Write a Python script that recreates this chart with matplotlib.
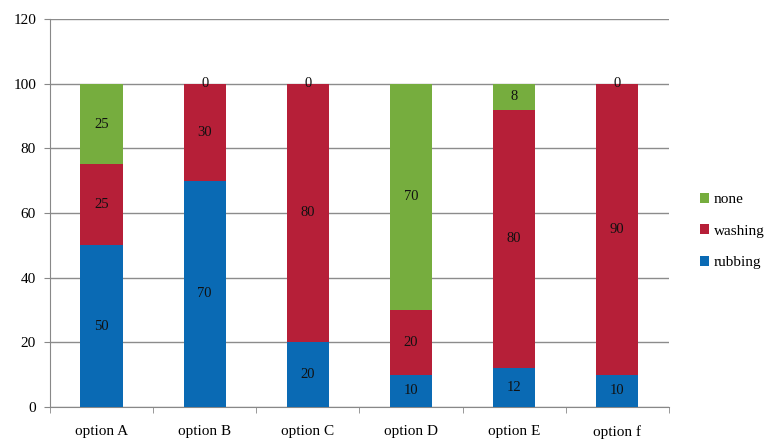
import matplotlib.pyplot as plt
import numpy as np

options = ["option A", "option B", "option C", "option D", "option E", "option f"]
rubbing = [50, 70, 20, 10, 12, 10]
washing = [25, 30, 80, 20, 80, 90]
none = [25, 0, 0, 70, 8, 0]

plt.rcParams['font.family'] = ['Liberation Serif', 'DejaVu Serif']

fig = plt.figure(figsize=(7.67, 4.41), dpi=100)
ax = fig.add_axes([0.0652, 0.0771, 0.8068, 0.8799])

x = np.arange(len(options))
w = 0.41
series = [("rubbing", rubbing, "#0a6ab4"),
          ("washing", washing, "#b61f38"),
          ("none", none, "#76ad3e")]
bottom = np.zeros(len(options))
for name, vals, col in series:
    ax.bar(x, vals, w, bottom=bottom, color=col, label=name, zorder=3)
    for xi, b, v in zip(x, bottom, vals):
        ax.text(xi, b + v / 2, str(v), ha='center', va='center',
                fontsize=10.5, color='#111111', zorder=4)
    bottom += np.array(vals)

ax.set_xlim(-0.5, len(options) - 0.5)
ax.set_ylim(0, 120)
ax.set_yticks(range(0, 121, 20))
ax.set_xticks(x)
ax.set_xticklabels(options)
ax.set_xticks(np.arange(-0.5, len(options)), minor=True)
ax.tick_params(axis='x', which='major', length=0, pad=13, labelsize=11)
ax.tick_params(axis='x', which='minor', length=4, color='#888888')
ax.tick_params(axis='y', length=4, color='#888888', labelsize=11, pad=6)
ax.grid(axis='y', color='#8c8c8c', linewidth=1, zorder=0)
for s in ('top', 'right'):
    ax.spines[s].set_visible(False)
for s in ('left', 'bottom'):
    ax.spines[s].set_color('#888888')

h, l = ax.get_legend_handles_labels()
fig.legend(h[::-1], l[::-1], loc='center left', bbox_to_anchor=(0.895, 0.476),
           frameon=False, fontsize=11, handlelength=0.6, handleheight=0.6,
           handletextpad=0.3, labelspacing=1.2)

fig.savefig("out.png", dpi=100)
